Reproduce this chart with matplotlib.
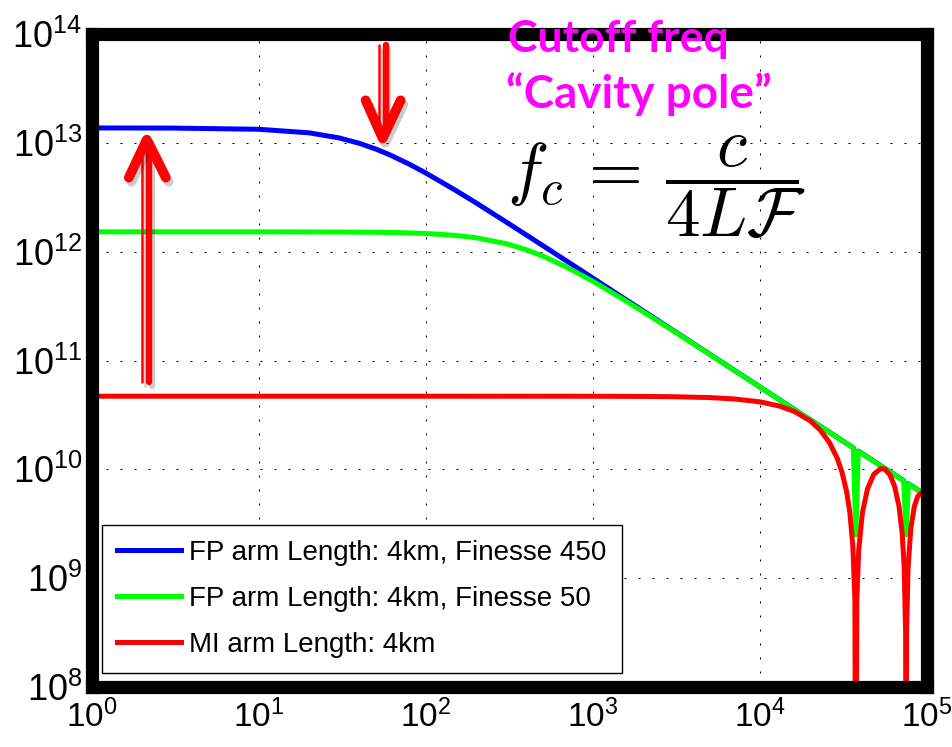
import matplotlib
matplotlib.use("Agg")
import matplotlib.pyplot as plt
import matplotlib.patheffects as pe

# FP arm, finesse 450 (blue)
freq_f450 = [1, 3, 10, 20, 30, 40, 50, 60, 80, 100, 150, 200, 300, 500, 1000,
             1e4, 2e4, 3.62e4, 3.75e4, 3.88e4, 5e4, 7.25e4, 7.5e4, 7.75e4, 1e5]
resp_f450 = [1.37e13, 1.366e13, 1.332e13, 1.235e13, 1.112e13, 9.89e12, 8.77e12,
             7.82e12, 6.33e12, 5.27e12, 3.67e12, 2.80e12, 1.887e12, 1.139e12,
             5.71e11, 5.71e10, 2.855e10, 1.577e10, 1.25e10, 1.472e10, 1.142e10,
             7.88e9, 6.5e9, 7.37e9, 5.71e9]

# FP arm, finesse 50 (green)
freq_f50 = [1, 10, 30, 50, 70, 100, 150, 200, 300, 400, 500, 700, 1000, 1500,
            2000, 3000, 5000, 1e4, 2e4, 3.62e4, 3.75e4, 3.88e4, 5e4, 7.25e4,
            7.5e4, 7.75e4, 1e5]
resp_f50 = [1.52e12, 1.52e12, 1.515e12, 1.507e12, 1.494e12, 1.469e12, 1.411e12,
            1.341e12, 1.187e12, 1.040e12, 9.12e11, 7.18e11, 5.34e11, 3.69e11,
            2.80e11, 1.885e11, 1.137e11, 5.70e10, 2.85e10, 1.575e10, 2.5e9,
            1.469e10, 1.14e10, 7.86e9, 2.5e9, 7.35e9, 5.7e9]

# simple Michelson (red)
freq_mi = [1, 100, 1000, 2000, 3000, 5000, 7000, 1e4, 1.3e4, 1.6e4, 2e4, 2.3e4,
           2.6e4, 2.9e4, 3.1e4, 3.3e4, 3.45e4, 3.6e4, 3.7e4, 3.75e4, 3.8e4, 3.9e4,
           4.1e4, 4.4e4, 4.8e4, 5.3e4, 5.6e4, 6e4, 6.4e4, 6.8e4, 7.1e4, 7.3e4,
           7.45e4, 7.5e4, 7.55e4, 7.7e4, 8e4, 8.4e4, 8.8e4, 9.2e4, 9.6e4, 1e5]
resp_mi = [4.70e10, 4.70e10, 4.695e10, 4.678e10, 4.65e10, 4.564e10, 4.435e10,
           4.17e10, 3.825e10, 3.414e10, 2.79e10, 2.286e10, 1.771e10, 1.266e10,
           9.37e9, 6.26e9, 4.05e9, 1.95e9, 6.35e8, 1e6, 6.19e8, 1.80e9, 3.955e9,
           6.60e9, 9.0e9, 1.019e10, 1.002e10, 8.89e9, 6.98e9, 4.57e9, 2.60e9,
           1.28e9, 3.15e8, 1e6, 3.11e8, 1.215e9, 2.85e9, 4.57e9, 5.65e9, 6.03e9,
           5.74e9, 4.86e9]

labels = ["FP arm Length: 4km, Finesse 450",
          "FP arm Length: 4km, Finesse 50",
          "MI arm Length: 4km"]

fig = plt.figure(figsize=(9.53, 7.47), dpi=100)
ax = fig.add_axes([0.0965, 0.0803, 0.8762, 0.8742])
ax.set_xscale("log")
ax.set_yscale("log")

ax.plot(freq_f450, resp_f450, color=(0, 0, 1), lw=3.6, label=labels[0])
ax.plot(freq_f50, resp_f50, color=(0, 1, 0), lw=3.6, label=labels[1])
ax.plot(freq_mi, resp_mi, color=(1, 0, 0), lw=3.6, label=labels[2])

ax.set_xlim(1, 1e5)
ax.set_ylim(1e8, 1e14)
ax.minorticks_off()
ax.grid(True, which="major", color="k", lw=0.72, ls=(0, (2, 12)))
for s in ax.spines.values():
    s.set_linewidth(9.5)
    s.set_capstyle("projecting")
ax.tick_params(length=0, labelfontfamily="Liberation Sans")
ax.tick_params(axis="y", labelsize=26, pad=7)
ax.tick_params(axis="x", labelsize=24, pad=9)

leg = ax.legend(loc="lower left", bbox_to_anchor=(0.012, 0.021), borderaxespad=0,
                prop={"family": "Liberation Sans", "size": 20},
                handlelength=2.3, handletextpad=0.3, borderpad=0.55,
                labelspacing=0.72, fancybox=False, framealpha=1, edgecolor="k")
leg.get_frame().set_linewidth(1.0)


# arrows drawn in pixel offsets around a data point
def px_line(x, y, offs, **kw):
    bx, by = ax.transData.transform((x, y))
    pts = [ax.transData.inverted().transform((bx + dx, by + dy)) for dx, dy in offs]
    ax.plot([p[0] for p in pts], [p[1] for p in pts], solid_capstyle="round",
            solid_joinstyle="round", clip_on=False, zorder=5,
            path_effects=[pe.SimpleLineShadow(offset=(2, -3), alpha=0.2),
                          pe.Normal()], **kw)


red = (1, 0, 0)
# up arrow at ~2 Hz
px_line(2.13, 1.07e13, [(-4.8, -10), (-4.8, -242)], color=red, lw=1.8)
px_line(2.13, 1.07e13, [(2.2, -10), (2.2, -242)], color=red, lw=4.6)
px_line(2.13, 1.07e13, [(-18, -38), (0, 0), (19, -38)], color=red, lw=7.0)
# down arrow at ~55 Hz
px_line(55, 1.1e13, [(-3.6, 10), (-3.6, 93)], color=red, lw=1.8)
px_line(55, 1.1e13, [(3.0, 10), (3.0, 93)], color=red, lw=4.6)
px_line(55, 1.1e13, [(-17, 38), (0, 0), (18, 38)], color=red, lw=7.0)

fig.text(508 / 953, 1 - 52 / 747, "Cutoff freq", color="#ff00ff", fontsize=32,
         fontweight="bold", family="Lato", ha="left", va="baseline", zorder=10)
fig.text(506 / 953, 1 - 108 / 747, "\u201cCavity pole\u201d", color="#ff00ff",
         fontsize=33, fontweight="bold", family="Lato", ha="left", va="baseline",
         zorder=10)
fig.text(657 / 953, 1 - 187 / 747, r"$f_c\,=\,\dfrac{c}{4L\mathcal{F}}$",
         math_fontfamily="cm", fontsize=50, ha="center", va="center", zorder=10)

fig.savefig("out.png", dpi=100)
